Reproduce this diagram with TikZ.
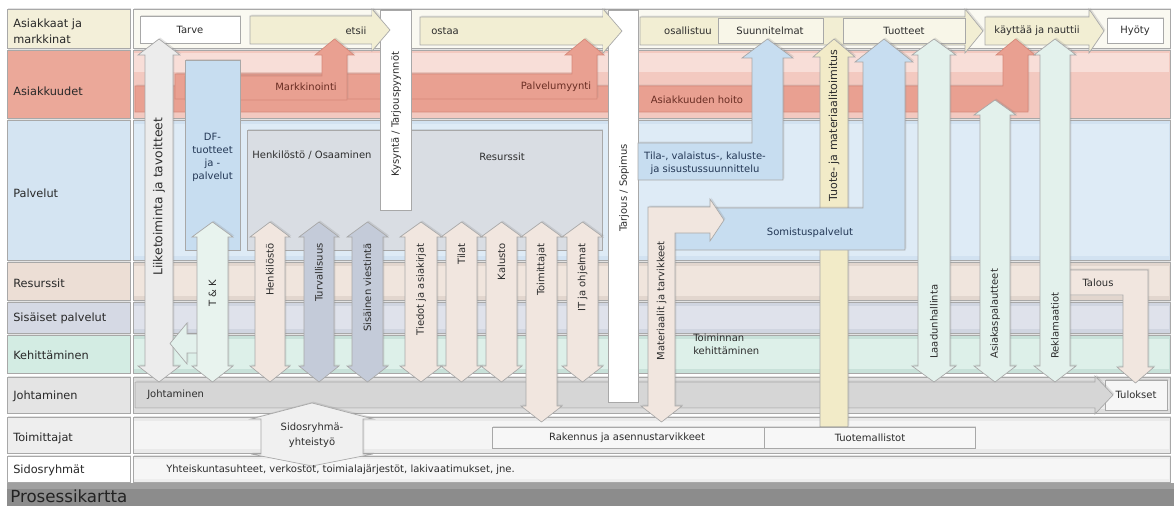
\documentclass[tikz,border=0pt]{standalone}
\usepackage{fontspec}
\setmainfont{DejaVu Sans}
\usetikzlibrary{shadows}

\begin{document}
\begin{tikzpicture}[x=0.75pt,y=0.75pt,yscale=-1,xscale=1,
    blk/.style={draw={rgb, 255:red, 168; green, 168; blue, 168 }, line width=0.5},
    shd/.style={drop shadow={opacity=0.22, shadow xshift=1pt, shadow yshift=1pt}},
    cream/.style={fill={rgb, 255:red, 242; green, 238; blue, 211 }},
    salmon/.style={fill={rgb, 255:red, 233; green, 160; blue, 145 }, draw={rgb, 255:red, 214; green, 137; blue, 122 }, line width=0.5},
    bluebox/.style={fill={rgb, 255:red, 199; green, 221; blue, 240 }},
    beige/.style={fill={rgb, 255:red, 241; green, 230; blue, 223 }},
    mint/.style={fill={rgb, 255:red, 227; green, 241; blue, 236 }},
    grayblue/.style={fill={rgb, 255:red, 196; green, 203; blue, 217 }},
    txt/.style={inner sep=0.75pt, font=\fontsize{7.5}{9.75}\selectfont, align=center, text={rgb, 255:red, 45; green, 45; blue, 45 }},
    vtxt/.style={txt, rotate=90},
    lbl/.style={anchor=west, inner sep=0.75pt, font=\fontsize{8.5}{12}\selectfont, align=left, text={rgb, 255:red, 40; green, 40; blue, 40 }},
    redtxt/.style={txt, text={rgb, 255:red, 105; green, 45; blue, 35 }},
    bluetxt/.style={txt, text={rgb, 255:red, 35; green, 55; blue, 85 }}
  ]
\useasboundingbox (0,0) rectangle (1174,506);
\fill [white] (0,0) rectangle (1174,506);

%Shape: Rectangle -- rows
\draw [blk, shd, fill={rgb, 255:red, 250; green, 249; blue, 241 }] (133,9) rectangle (1170,48) ;
\draw [blk, shd, fill={rgb, 255:red, 243; green, 239; blue, 217 }] (7,9) rectangle (130,48) ;
\draw [blk, shd, fill={rgb, 255:red, 243; green, 201; blue, 192 }] (133,50) rectangle (1170,118) ;
\fill [fill={rgb, 255:red, 248; green, 222; blue, 216 }] (134,53) rectangle (1169,72) ;
\draw [blk, shd, fill={rgb, 255:red, 235; green, 168; blue, 153 }] (7,50) rectangle (130,118) ;
\draw [blk, shd, fill={rgb, 255:red, 210; green, 226; blue, 241 }] (133,120) rectangle (1170,260) ;
\fill [fill={rgb, 255:red, 222; green, 235; blue, 246 }] (134,124) rectangle (1169,256) ;
\draw [blk, shd, fill={rgb, 255:red, 212; green, 228; blue, 242 }] (7,120) rectangle (130,260) ;
\draw [blk, shd, fill={rgb, 255:red, 226; green, 214; blue, 206 }] (133,262) rectangle (1170,300) ;
\fill [fill={rgb, 255:red, 240; green, 229; blue, 221 }] (134,266) rectangle (1169,296) ;
\draw [blk, shd, fill={rgb, 255:red, 236; green, 222; blue, 213 }] (7,262) rectangle (130,300) ;
\draw [blk, shd, fill={rgb, 255:red, 208; green, 213; blue, 224 }] (133,302) rectangle (1170,333) ;
\fill [fill={rgb, 255:red, 223; green, 226; blue, 235 }] (134,306) rectangle (1169,329) ;
\draw [blk, shd, fill={rgb, 255:red, 213; green, 217; blue, 228 }] (7,302) rectangle (130,333) ;
\draw [blk, shd, fill={rgb, 255:red, 200; green, 225; blue, 217 }] (133,335) rectangle (1170,373) ;
\fill [fill={rgb, 255:red, 221; green, 240; blue, 233 }] (134,339) rectangle (1169,369) ;
\draw [blk, shd, fill={rgb, 255:red, 211; green, 236; blue, 227 }] (7,335) rectangle (130,373) ;
\draw [blk, shd, fill={rgb, 255:red, 222; green, 222; blue, 222 }] (133,377) rectangle (1170,413) ;
\fill [fill={rgb, 255:red, 236; green, 236; blue, 236 }] (134,381) rectangle (1169,409) ;
\draw [blk, shd, fill={rgb, 255:red, 228; green, 228; blue, 228 }] (7,377) rectangle (130,413) ;
\draw [blk, shd, fill={rgb, 255:red, 234; green, 234; blue, 234 }] (133,417) rectangle (1170,453) ;
\fill [fill={rgb, 255:red, 245; green, 245; blue, 245 }] (134,421) rectangle (1169,449) ;
\draw [blk, shd, fill={rgb, 255:red, 238; green, 238; blue, 238 }] (7,417) rectangle (130,453) ;
\draw [blk, shd, fill={rgb, 255:red, 238; green, 238; blue, 238 }] (133,456) rectangle (1170,482) ;
\fill [fill={rgb, 255:red, 246; green, 246; blue, 246 }] (134,459) rectangle (1169,479) ;
\draw [blk, shd, fill=white] (7,456) rectangle (130,482) ;
\fill [fill={rgb, 255:red, 140; green, 140; blue, 140 }] (7,483) rectangle (1174,506) ;
\fill [fill={rgb, 255:red, 160; green, 160; blue, 160 }] (7,483) rectangle (1174,489) ;

%Shape: Rectangle -- Tulokset
\draw [blk, shd, fill={rgb, 255:red, 246; green, 246; blue, 246 }] (1105,380) rectangle (1167,410) ;
%Right Arrow -- Johtaminen
\draw [blk, shd, fill={rgb, 255:red, 214; green, 214; blue, 214 }] (135,382) -- (1095,382) -- (1095,376) -- (1113,395) -- (1095,414) -- (1095,408) -- (135,408) -- cycle ;
%Bent Arrow -- Talous
\draw [blk, shd, beige] (1060,270) -- (1148,270) -- (1148,367) -- (1154,367) -- (1135.5,383) -- (1117,367) -- (1123,367) -- (1123,295) -- (1060,295) -- cycle ;

%Shape: Rectangle -- Henkilosto / Resurssit
\draw [blk, shd, fill={rgb, 255:red, 217; green, 221; blue, 227 }] (247,130) rectangle (602,250) ;

%Shape: Rectangle -- top row boxes
\draw [blk, shd, fill=white] (140,16) rectangle (240,43) ;
%Right Arrow
\draw [blk, shd, cream] (250,16) -- (372,16) -- (372,9) -- (390,30) -- (372,51) -- (372,44) -- (250,44) -- cycle ;
%Right Arrow
\draw [blk, shd, cream] (420,17) -- (603,17) -- (603,9) -- (622,31) -- (603,53) -- (603,45) -- (420,45) -- cycle ;
%Right Arrow
\draw [blk, shd, cream] (640,17) -- (965,17) -- (965,9) -- (983,31) -- (965,53) -- (965,45) -- (640,45) -- cycle ;
\draw [blk, fill={rgb, 255:red, 248; green, 246; blue, 232 }] (718,18) rectangle (823,43) ;
\draw [blk, fill={rgb, 255:red, 248; green, 246; blue, 232 }] (843,18) rectangle (965,43) ;
%Right Arrow
\draw [blk, shd, cream] (985,17) -- (1089,17) -- (1089,9) -- (1104,31) -- (1089,53) -- (1089,45) -- (985,45) -- cycle ;
\draw [blk, shd, fill=white] (1107,18) rectangle (1163,43) ;

%Bent Arrow -- Asiakkuuden hoito
\draw [salmon, shd] (135,86) -- (1003,86) -- (1003,55) -- (996,55) -- (1015.5,39) -- (1035,55) -- (1028,55) -- (1028,112) -- (135,112) -- cycle ;
%Bent Arrow -- Palvelumyynti
\draw [salmon, shd] (175,74) -- (572,74) -- (572,55) -- (565,55) -- (584.5,39) -- (604,55) -- (597,55) -- (597,99) -- (175,99) -- cycle ;
%Bent Arrow -- Markkinointi
\draw [salmon, shd] (185,76) -- (322,76) -- (322,55) -- (315,55) -- (334.5,39) -- (354,55) -- (347,55) -- (347,100) -- (185,100) -- cycle ;

%Shape: Rectangle -- white columns
\draw [blk, shd, fill=white] (380,10) rectangle (411,210) ;
\draw [blk, shd, fill=white] (608,10) rectangle (638,402) ;
% arrow heads over the columns
\fill [cream] (372,9) -- (390,30) -- (372,51) -- cycle ;
\draw [blk] (372,9) -- (390,30) -- (372,51) ;
\fill [cream] (603,9) -- (622,31) -- (603,53) -- cycle ;
\draw [blk] (603,9) -- (622,31) -- (603,53) ;

%Shape: Rectangle -- DF
\draw [blk, shd, bluebox] (185,60) rectangle (240,250) ;

%Up Arrow -- Tuote- ja materiaalitoimitus
\draw [blk, shd, fill={rgb, 255:red, 242; green, 235; blue, 200 }] (834,39) -- (855,57) -- (848,57) -- (848,427) -- (820,427) -- (820,57) -- (813,57) -- cycle ;
%Bent Arrow -- Tila
\draw [blk, shd, bluebox] (638,143) -- (752,143) -- (752,58) -- (742,58) -- (767.5,39) -- (793,58) -- (783,58) -- (783,180) -- (638,180) -- cycle ;
%Bent Arrow -- Somistuspalvelut
\draw [blk, shd, bluebox] (650,208) -- (863,208) -- (863,62) -- (855,62) -- (884,39) -- (913,62) -- (905,62) -- (905,250) -- (650,250) -- cycle ;
%Bent Arrow -- Materiaalit ja tarvikkeet
\draw [blk, shd, beige] (648,207) -- (710,207) -- (710,199) -- (724,220) -- (710,241) -- (710,233) -- (675,233) -- (675,406) -- (682,406) -- (661.5,422) -- (641,406) -- (648,406) -- cycle ;

%Up Down Arrow -- Liiketoiminta
\draw [blk, shd, fill={rgb, 255:red, 236; green, 236; blue, 236 }] (159,39) -- (180,55) -- (173,55) -- (173,366) -- (180,366) -- (159,382) -- (138,366) -- (145,366) -- (145,55) -- (138,55) -- cycle ;
%Left Arrow -- Kehittaminen
\draw [blk, shd, mint] (215,334) -- (187,334) -- (187,323) -- (170,343.5) -- (187,364) -- (187,353) -- (215,353) -- cycle ;
%Up Down Arrow -- T & K
\draw [blk, shd, fill={rgb, 255:red, 232; green, 243; blue, 238 }] (212.5,222) -- (233,237) -- (228,237) -- (228,366) -- (233,366) -- (212.5,382) -- (192,366) -- (197,366) -- (197,237) -- (192,237) -- cycle ;
%Up Down Arrow -- Henkilosto
\draw [blk, shd, beige] (270,222) -- (290,237) -- (285,237) -- (285,366) -- (290,366) -- (270,382) -- (250,366) -- (255,366) -- (255,237) -- (250,237) -- cycle ;
%Up Down Arrow -- Turvallisuus
\draw [blk, shd, grayblue] (319,222) -- (339,237) -- (334,237) -- (334,366) -- (339,366) -- (319,382) -- (299,366) -- (304,366) -- (304,237) -- (299,237) -- cycle ;
%Up Down Arrow -- Sisainen viestinta
\draw [blk, shd, grayblue] (367.5,222) -- (388,237) -- (383,237) -- (383,366) -- (388,366) -- (367.5,382) -- (347,366) -- (352,366) -- (352,237) -- (347,237) -- cycle ;
%Up Down Arrow -- Tiedot ja asiakirjat
\draw [blk, shd, beige] (421,222) -- (442,237) -- (437,237) -- (437,366) -- (442,366) -- (421,382) -- (400,366) -- (405,366) -- (405,237) -- (400,237) -- cycle ;
%Up Down Arrow -- Tilat
\draw [blk, shd, beige] (461.5,222) -- (482,237) -- (477,237) -- (477,366) -- (482,366) -- (461.5,382) -- (441,366) -- (446,366) -- (446,237) -- (441,237) -- cycle ;
%Up Down Arrow -- Kalusto
\draw [blk, shd, beige] (501.5,222) -- (522,237) -- (517,237) -- (517,366) -- (522,366) -- (501.5,382) -- (481,366) -- (486,366) -- (486,237) -- (481,237) -- cycle ;
%Up Down Arrow -- Toimittajat
\draw [blk, shd, beige] (541.5,222) -- (562,237) -- (557,237) -- (557,406) -- (562,406) -- (541.5,422) -- (521,406) -- (526,406) -- (526,237) -- (521,237) -- cycle ;
%Up Down Arrow -- IT ja ohjelmat
\draw [blk, shd, beige] (582.5,222) -- (603,237) -- (598,237) -- (598,366) -- (603,366) -- (582.5,382) -- (562,366) -- (567,366) -- (567,237) -- (562,237) -- cycle ;

%Up Down Arrow -- Laadunhallinta
\draw [blk, shd, mint] (934,39) -- (956,55) -- (950,55) -- (950,366) -- (956,366) -- (934,382) -- (912,366) -- (918,366) -- (918,55) -- (912,55) -- cycle ;
%Up Down Arrow -- Asiakaspalautteet
\draw [blk, shd, mint] (995,100) -- (1016,115) -- (1010,115) -- (1010,366) -- (1016,366) -- (995,382) -- (974,366) -- (980,366) -- (980,115) -- (974,115) -- cycle ;
%Up Down Arrow -- Reklamaatiot
\draw [blk, shd, mint] (1055,39) -- (1076,55) -- (1070,55) -- (1070,366) -- (1076,366) -- (1055,382) -- (1034,366) -- (1040,366) -- (1040,55) -- (1034,55) -- cycle ;

%Shape: Rectangle -- Toimittajat boxes
\draw [blk, shd, fill={rgb, 255:red, 247; green, 247; blue, 247 }] (492,427) rectangle (764,448) ;
\draw [blk, shd, fill={rgb, 255:red, 247; green, 247; blue, 247 }] (764,427) rectangle (975,448) ;
%Up Down Arrow -- Sidosryhmayhteistyo
\draw [blk, shd, fill={rgb, 255:red, 240; green, 240; blue, 240 }] (312,403) -- (373,419) -- (363,419) -- (363,454) -- (373,454) -- (312,466) -- (251,454) -- (261,454) -- (261,419) -- (251,419) -- cycle ;

% Text Node -- row labels
\draw (12,31) node (lAsiakkaat) [lbl] {Asiakkaat ja\\markkinat};
\draw (12,91) node (lAsiakkuudet) [lbl] {Asiakkuudet};
\draw (12,193) node (lPalvelut) [lbl] {Palvelut};
\draw (12,283) node (lResurssit) [lbl] {Resurssit};
\draw (12,318) node (lSisaiset) [lbl] {Sisäiset palvelut};
\draw (12,355) node (lKehittaminen) [lbl] {Kehittäminen};
\draw (12,396) node (lJohtaminen) [lbl] {Johtaminen};
\draw (12,438) node (lToimittajat) [lbl] {Toimittajat};
\draw (12,470) node (lSidosryhmat) [lbl] {Sidosryhmät};
\draw (9,496) node (lProsessikartta) [lbl, font=\fontsize{12.5}{14}\selectfont, text={rgb, 255:red, 35; green, 35; blue, 35 }] {Prosessikartta};

% Text Node -- top row
\draw (190,30) node (nTarve) [txt] {Tarve};
\draw (356,31) node (nEtsii) [txt] {etsii};
\draw (430,31) node (nOstaa) [txt, anchor=west] {ostaa};
\draw (688,31) node (nOsallistuu) [txt] {osallistuu};
\draw (770,31) node (nSuunnitelmat) [txt] {Suunnitelmat};
\draw (904,31) node (nTuotteet) [txt] {Tuotteet};
\draw (1037,31) node (nKayttaa) [txt] {käyttää ja nauttii};
\draw (1135,31) node (nHyoty) [txt] {Hyöty};

% Text Node -- Asiakkuudet
\draw (306,87) node (nMarkkinointi) [redtxt] {Markkinointi};
\draw (556,87) node (nPalvelumyynti) [redtxt] {Palvelumyynti};
\draw (697,100) node (nHoito) [redtxt] {Asiakkuuden hoito};

% Text Node -- Palvelut
\draw (212.5,157.5) node (nDF) [bluetxt] {DF-\\tuotteet\\ja -\\palvelut};
\draw (312,155) node (nHenkOsa) [txt] {Henkilöstö / Osaaminen};
\draw (502,157) node (nResurssit) [txt] {Resurssit};
\draw (705,163.5) node (nTila) [bluetxt] {Tila-, valaistus-, kaluste-\\ja sisustussuunnittelu};
\draw (810,233) node (nSomistus) [bluetxt] {Somistuspalvelut};

% Text Node -- vertical labels
\draw (159,277) node (nLiike) [vtxt, anchor=west, font=\fontsize{9.2}{11}\selectfont] {Liiketoiminta ja tavoitteet};
\draw (396,178) node (nKysynta) [vtxt, anchor=west] {Kysyntä / Tarjouspyynnöt};
\draw (624,233) node (nTarjous) [vtxt, anchor=west] {Tarjous / Sopimus};
\draw (212.5,293) node (nTK) [vtxt] {T \& K};
\draw (270,242) node (nHenkilosto) [vtxt, anchor=east] {Henkilöstö};
\draw (319,242) node (nTurva) [vtxt, anchor=east] {Turvallisuus};
\draw (367.5,242) node (nViestinta) [vtxt, anchor=east] {Sisäinen viestintä};
\draw (421,242) node (nTiedot) [vtxt, anchor=east] {Tiedot ja asiakirjat};
\draw (461.5,242) node (nTilat) [vtxt, anchor=east] {Tilat};
\draw (501.5,242) node (nKalusto) [vtxt, anchor=east] {Kalusto};
\draw (541.5,242) node (nToimittajat) [vtxt, anchor=east] {Toimittajat};
\draw (582.5,242) node (nIT) [vtxt, anchor=east] {IT ja ohjelmat};
\draw (661.5,240) node (nMateriaalit) [vtxt, anchor=east] {Materiaalit ja tarvikkeet};
\draw (834,203) node (nTuote) [vtxt, anchor=west, font=\fontsize{8.3}{10}\selectfont] {Tuote- ja materiaalitoimitus};
\draw (934,360) node (nLaatu) [vtxt, anchor=west] {Laadunhallinta};
\draw (995,360) node (nPalaute) [vtxt, anchor=west] {Asiakaspalautteet};
\draw (1055,360) node (nReklamaatiot) [vtxt, anchor=west] {Reklamaatiot};

% Text Node -- lower rows
\draw (692,344) node (nToiminnan) [txt, anchor=west, align=left] {Toiminnan\\kehittäminen};
\draw (1098,283) node (nTalous) [txt] {Talous};
\draw (146,395) node (nJohtaminen) [txt, anchor=west] {Johtaminen};
\draw (1136,395) node (nTulokset) [txt] {Tulokset};
\draw (312,435) node (nSidos) [txt, font=\fontsize{7.5}{11}\selectfont] {Sidosryhmä-\\yhteistyö};
\draw (627,438) node (nRakennus) [txt] {Rakennus ja asennustarvikkeet};
\draw (870,438) node (nMallistot) [txt] {Tuotemallistot};
\draw (165,470) node (nYhteis) [txt, anchor=west] {Yhteiskuntasuhteet, verkostot, toimialajärjestöt, lakivaatimukset, jne.};

\end{tikzpicture}
\end{document}
